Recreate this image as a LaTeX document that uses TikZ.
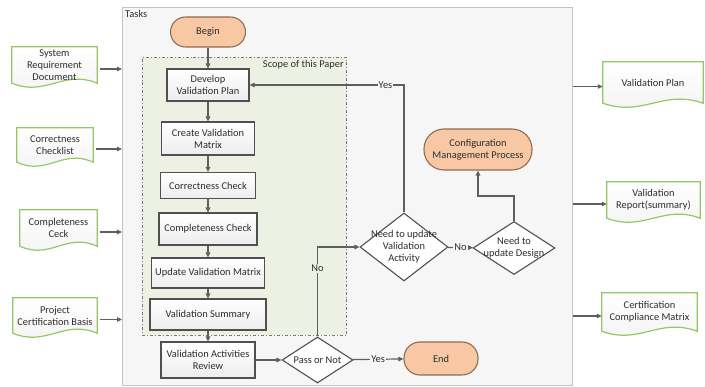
\documentclass[tikz,border=0pt]{standalone}
\usepackage{fontspec}
\setmainfont{Carlito}
\usetikzlibrary{arrows.meta,shapes.geometric,calc}
\definecolor{frameFill}{RGB}{246,246,246}
\definecolor{frameLine}{RGB}{195,195,195}
\definecolor{scopeFill}{RGB}{237,241,228}
\definecolor{scopeLine}{RGB}{120,120,120}
\definecolor{boxLine}{RGB}{80,80,80}
\definecolor{termFill}{RGB}{248,200,164}
\definecolor{termLine}{RGB}{140,110,85}
\definecolor{docLine}{RGB}{146,200,104}
\definecolor{arrowCol}{RGB}{95,95,95}
\definecolor{txt}{RGB}{45,45,45}
\newcommand{\docshape}[1]{%
  \path let \p1=(#1.south west), \p2=(#1.south east), \n1={\x2-\x1} in
    [draw=docLine, line width=1.2pt, top color=white, bottom color=gray!10]
    (#1.north west) -- (#1.north east) -- (#1.south east)
    .. controls (\x2-0.4*\n1,\y2+14pt) and (\x1+0.4*\n1,\y1-14pt) .. (#1.south west) -- cycle;}
\begin{document}
\begin{tikzpicture}[x=1pt,y=-1pt, font=\fontsize{10.4}{12}\selectfont, text=txt,
  procbox/.style={draw=boxLine, line width=1.1pt, top color=white, bottom color=gray!14, align=center, inner sep=1pt},
  term/.style={draw=termLine, line width=1.1pt, fill=termFill, align=center, inner sep=1pt},
  decision/.style={diamond, draw=boxLine, line width=1.1pt, fill=white, inner sep=0pt},
  dtext/.style={align=center, inner sep=0pt},
  docbox/.style={inner sep=0pt},
  doctext/.style={align=center, inner sep=0pt},
  arr/.style={draw=arrowCol, line width=1.2pt, -{Triangle[length=5pt,width=4.5pt]}},
  lbl/.style={fill=frameFill, inner sep=1pt},
]
\useasboundingbox (0,0) rectangle (705,387);
% frame and scope
\node[draw=frameLine, line width=1.2pt, fill=frameFill, minimum width=450pt, minimum height=378pt, anchor=north west, inner sep=0pt] (frame) at (122,7) {};
\node[anchor=north west, inner sep=1pt] (taskslbl) at ($(frame.north west)+(2,2)$) {Tasks};
\node[draw=scopeLine, line width=0.9pt, dash dot, fill=scopeFill, minimum width=204pt, minimum height=278pt, anchor=north west, inner sep=0pt] (scope) at (142,57) {};
\node[anchor=north east, inner sep=1pt] (scopelbl) at ($(scope.north east)+(-2,2)$) {Scope of this Paper};

% main column
\node[term, rounded corners=15pt, minimum width=75pt, minimum height=30pt] (begin) at (208,32) {Begin};
\node[procbox, minimum width=82pt, minimum height=32pt] (dev) at (208,85) {Develop\\Validation Plan};
\node[procbox, minimum width=93pt, minimum height=33pt] (cvm) at (208,138.5) {Create Validation\\Matrix};
\node[procbox, minimum width=95pt, minimum height=26pt] (cc) at (208,185.5) {Correctness Check};
\node[procbox, minimum width=98pt, minimum height=32pt] (comp) at (208,229) {Completeness Check};
\node[procbox, minimum width=113pt, minimum height=30pt] (uvm) at (208,273) {Update Validation Matrix};
\node[procbox, minimum width=116pt, minimum height=31pt] (vs) at (208,314.5) {Validation Summary};
\node[procbox, minimum width=94pt, minimum height=36pt] (var) at (208,360) {Validation Activities\\Review};

% decisions and terminals
\node[decision, minimum width=71pt, minimum height=46pt] (pass) at (317.5,360) {};
\node[dtext] (passt) at (pass) {Pass or Not};
\node[term, rounded corners=16pt, minimum width=74pt, minimum height=33pt] (end) at (441,358.5) {End};
\node[decision, minimum width=88pt, minimum height=68pt] (nva) at (404,247) {};
\node[dtext] (nvat) at (nva) {Need to update\\Validation\\Activity};
\node[decision, minimum width=82pt, minimum height=53pt] (nud) at (514,248) {};
\node[dtext] (nudt) at (nud) {Need to\\update Design};
\node[term, rounded corners=20pt, minimum width=108pt, minimum height=41pt] (cmp) at (478,149.5) {Configuration\\Management Process};

% main column arrows
\draw[arr] (begin) -- (dev);
\draw[arr] (dev) -- (cvm);
\draw[arr] (cvm) -- (cc);
\draw[arr] (cc) -- (comp);
\draw[arr] (comp) -- (uvm);
\draw[arr] (uvm) -- (vs);
\draw[arr] (vs) -- (var);
\draw[arr] (var) -- (pass);
\draw[arr] (pass) -- node[lbl] {Yes} (end);
\draw[arr] (pass.north) |- node[lbl, pos=0.38, fill=scopeFill] {No} (nva.west);
\draw[arr] (nva) -- node[lbl] {No} (nud);
\draw[arr] (nva.north) |- node[lbl, pos=0.56] {Yes} (dev.east);
\draw[arr] (nud.north) -- ++(0,-25) -| (cmp.south);

% input documents
\node[docbox, minimum width=85pt, minimum height=36pt] (d1) at (54.5,65) {};
\docshape{d1}
\node[doctext] (d1t) at (d1) {System\\Requirement\\Document};
\node[docbox, minimum width=76pt, minimum height=34pt] (d2) at (55,145) {};
\docshape{d2}
\node[doctext] (d2t) at (d2) {Correctness\\Checklist};
\node[docbox, minimum width=77pt, minimum height=36pt] (d3) at (58.5,228) {};
\docshape{d3}
\node[doctext] (d3t) at (d3) {Completeness\\Ceck};
\node[docbox, minimum width=84pt, minimum height=35pt] (d4) at (55,315.5) {};
\docshape{d4}
\node[doctext] (d4t) at (d4) {Project\\Certification Basis};

% output documents
\node[docbox, minimum width=100pt, minimum height=41pt] (r1) at (653,82.5) {};
\docshape{r1}
\node[doctext] (r1t) at (r1) {Validation Plan};
\node[docbox, minimum width=93pt, minimum height=36pt] (r2) at (653.5,200) {};
\docshape{r2}
\node[doctext] (r2t) at (r2) {Validation\\Report(summary)};
\node[docbox, minimum width=95pt, minimum height=38pt] (r3) at (649.5,312) {};
\docshape{r3}
\node[doctext] (r3t) at (r3) {Certification\\Compliance Matrix};

% document arrows
\foreach \d in {d1,d2,d3,d4}{
  \coordinate (\d a) at ($(\d.east)+(3,4)$);
  \draw[arr] (\d a) -- (\d a -| frame.west);}
\foreach \d in {r1,r2,r3}{
  \coordinate (\d a) at ($(\d.west)+(0,4)$);
  \draw[arr] (\d a -| frame.east) -- (\d a);}
\end{tikzpicture}
\end{document}
